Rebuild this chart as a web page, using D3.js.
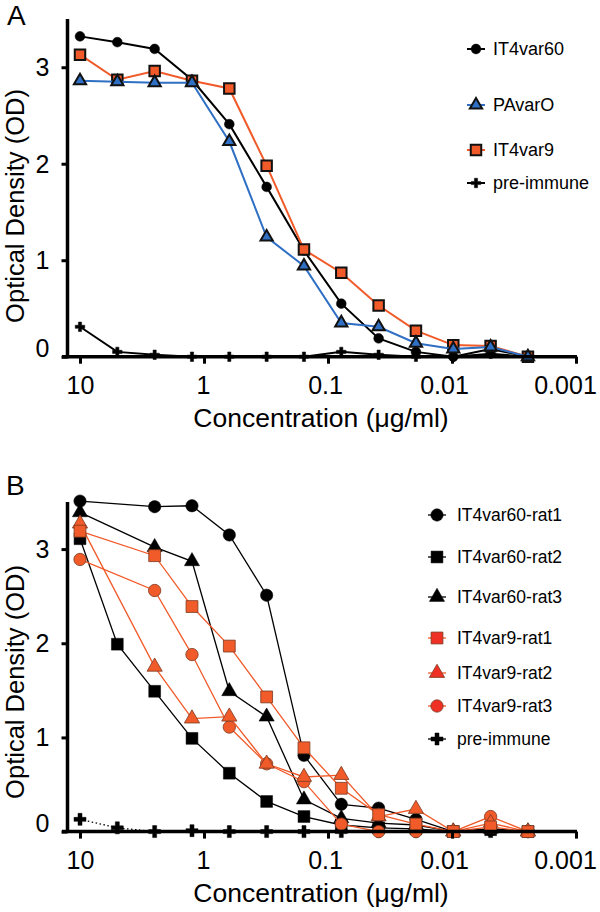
<!DOCTYPE html>
<html><head><meta charset="utf-8">
<script src="https://cdn.jsdelivr.net/npm/d3@7"></script>
<style>
body{margin:0;background:#fff}
svg{display:block}
text{font-family:"Liberation Sans",Arial,Helvetica,sans-serif;fill:#000}
</style>
</head><body>
<svg id="chart" width="600" height="912"></svg>
<script>
// ---------- data ----------
const concentrations = [10, 5, 2.5, 1.25, 0.625, 0.3125, 0.15625, 0.078125, 0.0390625, 0.01953125, 0.009765625, 0.0048828125, 0.00244140625];
const xTicks = [10, 1, 0.1, 0.01, 0.001];
const xTickLabels = ["10", "1", "0.1", "0.01", "0.001"];
const yTicks = [0, 1, 2, 3];
const yTickLabels = ["0", "1", "2", "3"];

// Panel A (legend order)
const seriesNamesA = ["IT4var60", "PAvarO", "IT4var9", "pre-immune"];
const aIT4var60  = [3.32, 3.26, 3.19, 2.87, 2.41, 1.76, 1.10, 0.55, 0.19, 0.05, 0.00, 0.08, 0.00];
const aPAvarO    = [2.86, 2.85, 2.84, 2.84, 2.23, 1.24, 0.94, 0.35, 0.31, 0.14, 0.08, 0.10, 0.00];
const aIT4var9   = [3.13, 2.87, 2.96, 2.86, 2.78, 1.98, 1.11, 0.87, 0.53, 0.27, 0.12, 0.11, 0.00];
const aPreImmune = [0.31, 0.05, 0.02, 0.00, 0.00, 0.00, 0.00, 0.05, 0.02, 0.00, 0.00, 0.03, 0.00];

// Panel B (legend order)
const seriesNamesB = ["IT4var60-rat1", "IT4var60-rat2", "IT4var60-rat3", "IT4var9-rat1", "IT4var9-rat2", "IT4var9-rat3", "pre-immune"];
const bIT4var60rat1 = [3.51, null, 3.45, 3.46, 3.15, 2.51, 0.81, 0.29, 0.25, 0.13, 0.00, 0.02, 0.00];
const bIT4var60rat2 = [3.11, 1.99, 1.49, 0.99, 0.62, 0.32, 0.16, 0.07, 0.04, 0.03, 0.00, 0.02, 0.00];
const bIT4var60rat3 = [3.39, null, 3.02, 2.87, 1.49, 1.22, 0.34, 0.14, 0.09, 0.07, 0.00, 0.03, 0.00];
const bIT4var9rat1  = [3.19, null, 2.93, 2.39, 1.97, 1.43, 0.89, 0.46, 0.18, 0.08, 0.00, 0.05, 0.00];
const bIT4var9rat2  = [3.27, null, 1.75, 1.20, 1.22, 0.72, 0.58, 0.60, 0.16, 0.24, 0.00, 0.09, 0.00];
const bIT4var9rat3  = [2.89, null, 2.56, 1.88, 1.11, 0.72, 0.53, 0.08, 0.00, 0.00, 0.00, 0.16, 0.00];
const bPreImmune    = [0.13, 0.04, 0.00, 0.01, 0.00, 0.00, 0.00, 0.00, 0.00, 0.00, 0.00, 0.00, 0.00];

// ---------- styling ----------
const ORANGE = "#f15a29";
const BLUE = "#2f6fc4";
const svg = d3.select("#chart");

const x = d3.scaleLog().domain([10, 0.001]).range([80, 576]);
const xLabelShift = [0, -1, -3, -8, -11];

function symPath(type, size) {
  return d3.symbol().type(type).size(size)();
}

function drawPanel(p) {
  const y = d3.scaleLinear().domain([0, 3.5]).range([p.y0, p.yTop]);
  const g = svg.append("g");

  // series (drawing order)
  p.series.forEach(s => {
    const pts = concentrations.map((c, i) => ({c, v: s.values[i]})).filter(d => d.v != null);
    const line = d3.line().x(d => x(d.c)).y(d => y(d.v));
    g.append("path").attr("d", line(pts)).attr("fill", "none")
      .attr("stroke", s.lineColor).attr("stroke-width", s.lineWidth)
      .attr("stroke-dasharray", s.dash || null);
    g.selectAll(null).data(pts).enter().append("path")
      .attr("d", symPath(s.symbol, s.size))
      .attr("transform", d => `translate(${x(d.c)},${y(d.v)})`)
      .attr("fill", s.fill).attr("stroke", s.stroke).attr("stroke-width", s.strokeWidth);
  });

  // axes
  const xAxisG = g.append("g").attr("transform", `translate(0,${p.y0})`)
    .call(d3.axisBottom(x).tickValues(xTicks).tickFormat((d, i) => xTickLabels[i]).tickSize(7).tickPadding(13));
  xAxisG.select(".domain").remove();
  xAxisG.selectAll(".tick line").attr("stroke", "#000").attr("stroke-width", 3);
  xAxisG.selectAll(".tick text").attr("font-size", 25).attr("font-family", "Liberation Sans, Arial, sans-serif")
    .attr("dx", (d, i) => xLabelShift[i]);
  g.append("line").attr("x1", 62).attr("x2", 577).attr("y1", p.y0).attr("y2", p.y0)
    .attr("stroke", "#000").attr("stroke-width", 3.5);

  const yAxisG = g.append("g").attr("transform", "translate(67.5,0)")
    .call(d3.axisLeft(y).tickValues(yTicks).tickFormat((d, i) => yTickLabels[i]).tickSize(6).tickPadding(12));
  yAxisG.select(".domain").remove();
  yAxisG.selectAll(".tick line").attr("stroke", "#000").attr("stroke-width", 3);
  yAxisG.selectAll(".tick text").attr("font-size", 25).attr("font-family", "Liberation Sans, Arial, sans-serif")
    .attr("dy", d => d === 0 ? "0.0em" : "0.34em");
  g.append("line").attr("x1", 67.5).attr("x2", 67.5).attr("y1", p.yTop).attr("y2", p.y0 + 1.5)
    .attr("stroke", "#000").attr("stroke-width", 3.5);

  // titles
  g.append("text").attr("x", 321).attr("y", p.y0 + 70).attr("text-anchor", "middle")
    .attr("font-size", 26.5).text("Concentration (\u03bcg/ml)");
  g.append("text").attr("transform", `translate(24,${p.yLabelC}) rotate(-90)`).attr("text-anchor", "middle")
    .attr("font-size", 25.5).text("Optical Density (OD)");
  g.append("text").attr("x", p.letterX).attr("y", p.letterY).attr("font-size", 28).text(p.letter);

  // legend (legend order)
  p.legendNames.forEach((name, i) => {
    const s = p.series.find(d => d.name === name);
    const ly = p.legendY[i];
    g.append("line").attr("x1", p.legendX - 9).attr("x2", p.legendX + 9).attr("y1", ly).attr("y2", ly)
      .attr("stroke", s.lineColor).attr("stroke-width", s.lineWidth);
    g.append("path").attr("d", symPath(s.symbol, s.legendSize || s.size))
      .attr("transform", `translate(${p.legendX},${ly})`)
      .attr("fill", s.legendFill || s.fill).attr("stroke", s.stroke).attr("stroke-width", s.strokeWidth);
    g.append("text").attr("x", p.legendX + p.legendGap).attr("y", ly).attr("dy", "0.35em")
      .attr("font-size", p.legendFont).text(name);
  });
}

drawPanel({
  y0: 356.7, yTop: 19, yLabelC: 206, letter: "A", letterX: 7, letterY: 25,
  legendX: 476, legendGap: 17, legendY: [49, 105, 150, 183], legendFont: 18,
  legendNames: seriesNamesA,
  series: [
    {name: seriesNamesA[3], values: aPreImmune, lineColor: "#000", lineWidth: 2, symbol: d3.symbolCross, size: 50, fill: "#000", stroke: "#000", strokeWidth: 0.5},
    {name: seriesNamesA[0], values: aIT4var60, lineColor: "#000", lineWidth: 2, symbol: d3.symbolCircle, size: 75, fill: "#000", stroke: "#000", strokeWidth: 0.5},
    {name: seriesNamesA[2], values: aIT4var9, lineColor: ORANGE, lineWidth: 2, symbol: d3.symbolSquare, size: 110, fill: ORANGE, stroke: "#111", strokeWidth: 2},
    {name: seriesNamesA[1], values: aPAvarO, lineColor: BLUE, lineWidth: 2, symbol: d3.symbolTriangle, size: 65, fill: BLUE, stroke: "#111", strokeWidth: 2}
  ]
});

drawPanel({
  y0: 831.6, yTop: 502, yLabelC: 682, letter: "B", letterX: 6, letterY: 495,
  legendX: 437, legendGap: 20, legendY: [515, 557, 597, 638, 673, 706, 739], legendFont: 17.5,
  legendNames: seriesNamesB,
  series: [
    {name: seriesNamesB[6], values: bPreImmune, lineColor: "#000", lineWidth: 1.3, dash: "1.5,2.5", symbol: d3.symbolCross, size: 80, fill: "#000", stroke: "#000", strokeWidth: 0.5},
    {name: seriesNamesB[0], values: bIT4var60rat1, lineColor: "#000", lineWidth: 1.3, symbol: d3.symbolCircle, size: 120, fill: "#000", stroke: "#000", strokeWidth: 0.5},
    {name: seriesNamesB[1], values: bIT4var60rat2, lineColor: "#000", lineWidth: 1.3, symbol: d3.symbolSquare, size: 140, fill: "#000", stroke: "#000", strokeWidth: 0.5},
    {name: seriesNamesB[2], values: bIT4var60rat3, lineColor: "#000", lineWidth: 1.3, symbol: d3.symbolTriangle, size: 100, fill: "#000", stroke: "#000", strokeWidth: 0.5},
    {name: seriesNamesB[5], values: bIT4var9rat3, lineColor: ORANGE, lineWidth: 1.3, symbol: d3.symbolCircle, size: 120, fill: ORANGE, stroke: "#7a3a22", strokeWidth: 0.8, legendFill: "#ee3124"},
    {name: seriesNamesB[4], values: bIT4var9rat2, lineColor: ORANGE, lineWidth: 1.3, symbol: d3.symbolTriangle, size: 100, fill: ORANGE, stroke: "#7a3a22", strokeWidth: 0.8, legendFill: "#ee3124"},
    {name: seriesNamesB[3], values: bIT4var9rat1, lineColor: ORANGE, lineWidth: 1.3, symbol: d3.symbolSquare, size: 140, fill: ORANGE, stroke: "#7a3a22", strokeWidth: 0.8, legendFill: "#ee3124"}
  ]
});
</script>
</body></html>
